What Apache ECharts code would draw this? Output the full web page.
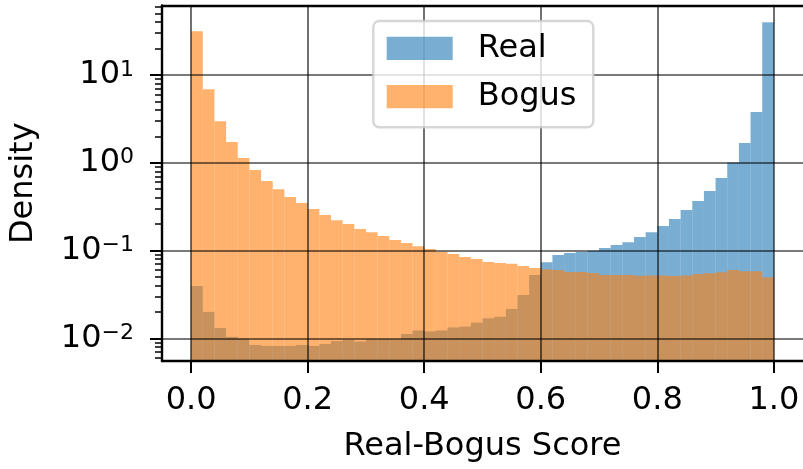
<!DOCTYPE html>
<html><head><meta charset="utf-8">
<script src="https://cdn.jsdelivr.net/npm/echarts@6/dist/echarts.min.js"></script>
<style>html,body{margin:0;padding:0;background:#fff;} #c{width:803px;height:469px;}</style>
</head><body><div id="c"></div>
<script>
const binLeft = [0.00,0.02,0.04,0.06,0.08,0.10,0.12,0.14,0.16,0.18,
                 0.20,0.22,0.24,0.26,0.28,0.30,0.32,0.34,0.36,0.38,
                 0.40,0.42,0.44,0.46,0.48,0.50,0.52,0.54,0.56,0.58,
                 0.60,0.62,0.64,0.66,0.68,0.70,0.72,0.74,0.76,0.78,
                 0.80,0.82,0.84,0.86,0.88,0.90,0.92,0.94,0.96,0.98];
const binWidth = 0.02;
const realDensity = [0.0394,0.0200,0.0131,0.0104,0.0099,0.0084,0.0082,0.0082,0.0082,0.0084,
                     0.0082,0.0086,0.0093,0.0096,0.0092,0.0098,0.0098,0.0097,0.0112,0.0123,
                     0.0120,0.0123,0.0133,0.0136,0.0151,0.0169,0.0176,0.0216,0.0311,0.0526,
                     0.0734,0.0889,0.0937,0.0960,0.0995,0.107,0.1156,0.1246,0.1425,0.162,
                     0.190,0.228,0.289,0.366,0.476,0.669,1.01,1.68,3.78,40.0];
const bogusDensity = [31.6,6.9,2.98,1.72,1.13,0.826,0.619,0.50,0.407,0.348,
                      0.297,0.254,0.222,0.200,0.176,0.162,0.146,0.132,0.122,0.112,
                      0.104,0.0969,0.0912,0.0843,0.080,0.074,0.0721,0.0705,0.0666,0.0632,
                      0.0614,0.0600,0.0568,0.0568,0.0553,0.0526,0.0526,0.0526,0.0516,0.052,
                      0.052,0.0513,0.052,0.054,0.055,0.0564,0.060,0.058,0.058,0.0495];
const seriesNames = ['Real', 'Bogus'];
const xTickValues = [0, 0.2, 0.4, 0.6, 0.8, 1.0];
const xTickLabels = ['0.0', '0.2', '0.4', '0.6', '0.8', '1.0'];
const yTickValues = [0.01, 0.1, 1, 10];
const yTickExponents = ['\u22122', '\u22121', '0', '1'];
const yMinorTickValues = [0.006,0.007,0.008,0.009,
                          0.02,0.03,0.04,0.05,0.06,0.07,0.08,0.09,
                          0.2,0.3,0.4,0.5,0.6,0.7,0.8,0.9,
                          2,3,4,5,6,7,8,9,
                          20,30,40,50,60];
const xAxisTitle = 'Real-Bogus Score';
const yAxisTitle = 'Density';

const FONT = 'DejaVu Sans';
const REAL_COLOR = 'rgba(31,119,180,0.6)';
const BOGUS_COLOR = 'rgba(255,127,14,0.6)';
const X_MIN = -0.05, X_MAX = 1.05;
const Y_MIN = 0.005514, Y_MAX = 61.9;

function histData(vals) {
  return binLeft.map((x0, i) => [x0, x0 + binWidth, vals[i]]);
}
function renderBar(color) {
  return function (params, api) {
    const p0 = api.coord([api.value(0), api.value(2)]);
    const p1 = api.coord([api.value(1), api.value(2)]);
    const cs = params.coordSys;
    const bottom = cs.y + cs.height;
    return {
      type: 'rect',
      shape: { x: p0[0], y: p0[1], width: p1[0] - p0[0], height: bottom - p0[1] },
      style: { fill: color }
    };
  };
}

const chart = echarts.init(document.getElementById('c'), null, { renderer: 'canvas' });
chart.setOption({
  animation: false,
  backgroundColor: '#fff',
  grid: { left: 162, top: 5.5, width: 642, height: 355.5, containLabel: false },
  legend: {
    orient: 'vertical', left: 373.3, top: 21,
    padding: [11.3, 16.8, 14.7, 13.4],
    itemWidth: 66, itemHeight: 23.3, itemGap: 16.3,
    backgroundColor: 'rgba(255,255,255,0.8)',
    borderColor: 'rgba(204,204,204,0.8)', borderWidth: 2.4, borderRadius: 6,
    selectedMode: false,
    textStyle: { fontFamily: FONT, fontSize: 32, lineHeight: 32, color: '#000', padding: [0, 0, 0, 20] },
    data: [
      { name: seriesNames[0], icon: 'rect', itemStyle: { color: REAL_COLOR, borderWidth: 0 } },
      { name: seriesNames[1], icon: 'rect', itemStyle: { color: BOGUS_COLOR, borderWidth: 0 } }
    ],
    z: 10
  },
  xAxis: [{
    type: 'value', min: X_MIN, max: X_MAX, position: 'bottom', z: 5,
    name: xAxisTitle, nameLocation: 'middle', nameGap: 70, nameMoveOverlap: false,
    nameTextStyle: { fontFamily: FONT, fontSize: 32, lineHeight: 32, color: '#000' },
    axisLine: { show: true, onZero: false, lineStyle: { color: '#000', width: 2.4 } },
    axisTick: { show: true, customValues: xTickValues, length: 12, lineStyle: { color: '#000', width: 2 } },
    axisLabel: {
      show: true, customValues: xTickValues, margin: 24,
      fontFamily: FONT, fontSize: 32, lineHeight: 32, color: '#000',
      formatter: v => xTickLabels[xTickValues.findIndex(t => Math.abs(t - v) < 1e-9)]
    },
    splitLine: { show: true, lineStyle: { color: 'rgba(0,0,0,0.7)', width: 1.6 } }
  }, {
    type: 'value', min: X_MIN, max: X_MAX, position: 'top', z: 5,
    axisLine: { show: true, onZero: false, lineStyle: { color: '#000', width: 2.4 } },
    axisTick: { show: false }, axisLabel: { show: false }, splitLine: { show: false }
  }],
  yAxis: [{
    type: 'log', min: Y_MIN, max: Y_MAX, position: 'left', z: 5,
    name: yAxisTitle, nameLocation: 'middle', nameGap: 122, nameRotate: 90, nameMoveOverlap: false,
    nameTextStyle: { fontFamily: FONT, fontSize: 32, lineHeight: 32, color: '#000' },
    axisLine: { show: true, onZero: false, lineStyle: { color: '#000', width: 2.4 } },
    axisTick: { show: true, customValues: yTickValues, length: 12, lineStyle: { color: '#000', width: 2 } },
    axisLabel: {
      show: true, customValues: yTickValues, margin: 28,
      fontFamily: FONT, color: '#000',
      formatter: v => {
        const i = yTickValues.findIndex(t => Math.abs(Math.log10(t) - Math.log10(v)) < 1e-6);
        return '{b|10}{s|' + yTickExponents[i] + '}';
      },
      rich: {
        b: { fontFamily: FONT, fontSize: 32, lineHeight: 32, color: '#000' },
        s: { fontFamily: FONT, fontSize: 22, lineHeight: 22, color: '#000', verticalAlign: 'top' }
      }
    },
    splitLine: { show: true, lineStyle: { color: 'rgba(0,0,0,0.7)', width: 1.6 } }
  }, {
    type: 'log', min: Y_MIN, max: Y_MAX, position: 'left', z: 5,
    axisLine: { show: false, onZero: false },
    axisTick: { show: true, customValues: yMinorTickValues, length: 7, lineStyle: { color: '#000', width: 1.5 } },
    axisLabel: { show: false }, splitLine: { show: false }
  }],
  series: [
    { type: 'custom', name: seriesNames[0], xAxisIndex: 0, yAxisIndex: 0, z: 2,
      itemStyle: { color: REAL_COLOR },
      renderItem: renderBar(REAL_COLOR), encode: { x: [0, 1], y: 2 }, data: histData(realDensity) },
    { type: 'custom', name: seriesNames[1], xAxisIndex: 0, yAxisIndex: 0, z: 2,
      itemStyle: { color: BOGUS_COLOR },
      renderItem: renderBar(BOGUS_COLOR), encode: { x: [0, 1], y: 2 }, data: histData(bogusDensity) }
  ]
});
</script></body></html>
